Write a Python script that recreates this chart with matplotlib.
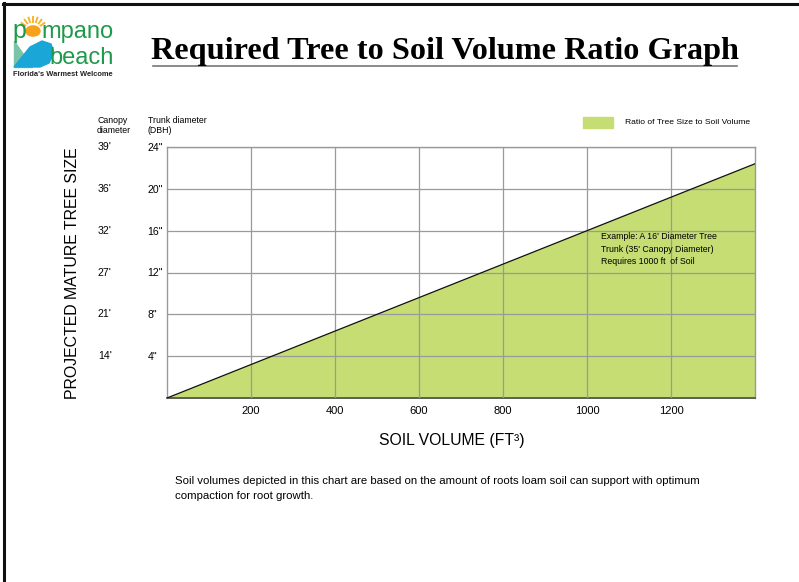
import matplotlib
matplotlib.use("Agg")
import matplotlib.pyplot as plt
from matplotlib.patches import Rectangle, Circle, Polygon
from matplotlib.lines import Line2D
import matplotlib.transforms as mtransforms
import numpy as np

plt.rcParams['font.family'] = ['Liberation Sans', 'DejaVu Sans']

# ---- data ----
soil_volume = [0, 1000, 1400]          # ft^3
trunk_dbh = [0, 16, 22.4]              # inches
x_ticks = [200, 400, 600, 800, 1000, 1200]
y_ticks = [4, 8, 12, 16, 20, 24]
trunk_labels = ['4"', '8"', '12"', '16"', '20"', '24"']
canopy_labels = ["14'", "21'", "27'", "32'", "36'", "39'"]

W, H = 799, 582
fig = plt.figure(figsize=(W / 100, H / 100), dpi=100)

def fx(x):
    return x / W

def fy(y):
    return 1 - y / H

# page border (top and left)
fig.add_artist(Line2D([fx(3), fx(797)], [fy(3.5), fy(3.5)], color='#111111', lw=2.2))
fig.add_artist(Line2D([fx(3.5), fx(3.5)], [fy(3), fy(582)], color='#111111', lw=2.2))

# ---- logo ----
green = '#1f9a4a'
fig.text(fx(12), fy(38), 'p', fontsize=18, color=green, ha='left', va='baseline')
cx, cy = 33, 31
fig.add_artist(Circle((fx(cx), fy(cy)), 7.0 / W, transform=fig.transFigure,
                      color='#f6a21a', zorder=3))
for ang in np.linspace(35, 145, 7):
    a = np.radians(ang)
    r1, r2 = 9.5, 14
    fig.add_artist(Line2D([fx(cx + r1 * np.cos(a)), fx(cx + r2 * np.cos(a))],
                          [fy(cy - r1 * np.sin(a)), fy(cy - r2 * np.sin(a))],
                          color='#f8b52a', lw=1.4))
fig.text(fx(41), fy(38), 'mpano', fontsize=17, color=green, ha='left', va='baseline')
fig.add_artist(Polygon([(fx(14), fy(41)), (fx(14), fy(67)), (fx(32), fy(67))],
                       closed=True, transform=fig.transFigure, color='#7cc4a8'))
fig.add_artist(Polygon([(fx(14), fy(67)), (fx(30), fy(47)), (fx(42), fy(41)),
                        (fx(51), fy(44)), (fx(54), fy(53)), (fx(49), fy(63)), (fx(40), fy(67))],
                       closed=True, transform=fig.transFigure, color='#1aa6d6'))
fig.text(fx(49), fy(64), 'beach', fontsize=17, color=green, ha='left', va='baseline')
fig.text(fx(13), fy(76), "Florida's Warmest Welcome", fontsize=5.4, color='#222222',
         ha='left', va='baseline', weight='bold')

# ---- title ----
fig.text(fx(445), fy(59), 'Required Tree to Soil Volume Ratio Graph', fontsize=23.2,
         family=['Liberation Serif'], weight='bold', ha='center', va='baseline')
fig.add_artist(Line2D([fx(153), fx(737)], [fy(66), fy(66)], color='#777777', lw=1.2))

# ---- axes ----
ax = fig.add_axes([fx(167), fy(398), fx(755) - fx(167), fy(147) - fy(398)])
ax.fill_between(soil_volume, trunk_dbh, 0, color='#c5dd72', zorder=1,
                label='Ratio of Tree Size to Soil Volume')
ax.plot(soil_volume, trunk_dbh, color='#111111', lw=0.9, zorder=3)
ax.set_xlim(0, 1400)
ax.set_ylim(0, 24)
ax.set_xticks(x_ticks)
ax.set_xticklabels([str(v) for v in x_ticks], fontsize=8)
ax.set_yticks(y_ticks)
ax.set_yticklabels(trunk_labels, fontsize=7.6, ha='left')
ax.tick_params(axis='y', length=0, pad=14)
ax.tick_params(axis='x', length=0, pad=6)
ax.grid(True, color='#9a9a9a', lw=0.9, zorder=2)
ax.set_axisbelow(False)
for s in ax.spines.values():
    s.set_color('#9a9a9a')
    s.set_linewidth(1.0)
ax.spines['bottom'].set_color('#555555')
ax.spines['bottom'].set_linewidth(1.3)

trans = mtransforms.blended_transform_factory(fig.transFigure, ax.transData)
for yv, lab in zip(y_ticks, canopy_labels):
    fig.text(fx(98), 0, lab, fontsize=7.6, ha='left', va='center', transform=trans
             ).set_y(yv)

fig.text(fx(97), fy(125.5), 'Canopy\ndiameter', fontsize=6.3, ha='left', va='center',
         linespacing=1.12)
fig.text(fx(148), fy(125.5), 'Trunk diameter\n(DBH)', fontsize=6.3, ha='left', va='center',
         linespacing=1.12)

fig.text(fx(452), fy(440), 'SOIL VOLUME (FT³)', fontsize=11.3, ha='center', va='center')
fig.text(fx(73), fy(273), 'PROJECTED MATURE TREE SIZE', fontsize=11.4, rotation=90,
         ha='center', va='center')

# legend
fig.add_artist(Rectangle((fx(583), fy(128)), fx(613) - fx(583), fy(117) - fy(128),
                         transform=fig.transFigure, color='#c5dd72'))
fig.text(fx(625), fy(122), 'Ratio of Tree Size to Soil Volume', fontsize=6.1,
         ha='left', va='center')

# annotation
ax.text(1033, 15.9, "Example: A 16' Diameter Tree\nTrunk (35' Canopy Diameter)\nRequires 1000 ft  of Soil",
        fontsize=6.3, ha='left', va='top', linespacing=1.55, zorder=4)

# footnote
fig.text(fx(175), fy(476.5), 'Soil volumes depicted in this chart are based on the amount of roots loam soil can support with optimum\ncompaction for root growth.',
         fontsize=8.2, ha='left', va='top', linespacing=1.6)

fig.savefig('out.png', dpi=100)
